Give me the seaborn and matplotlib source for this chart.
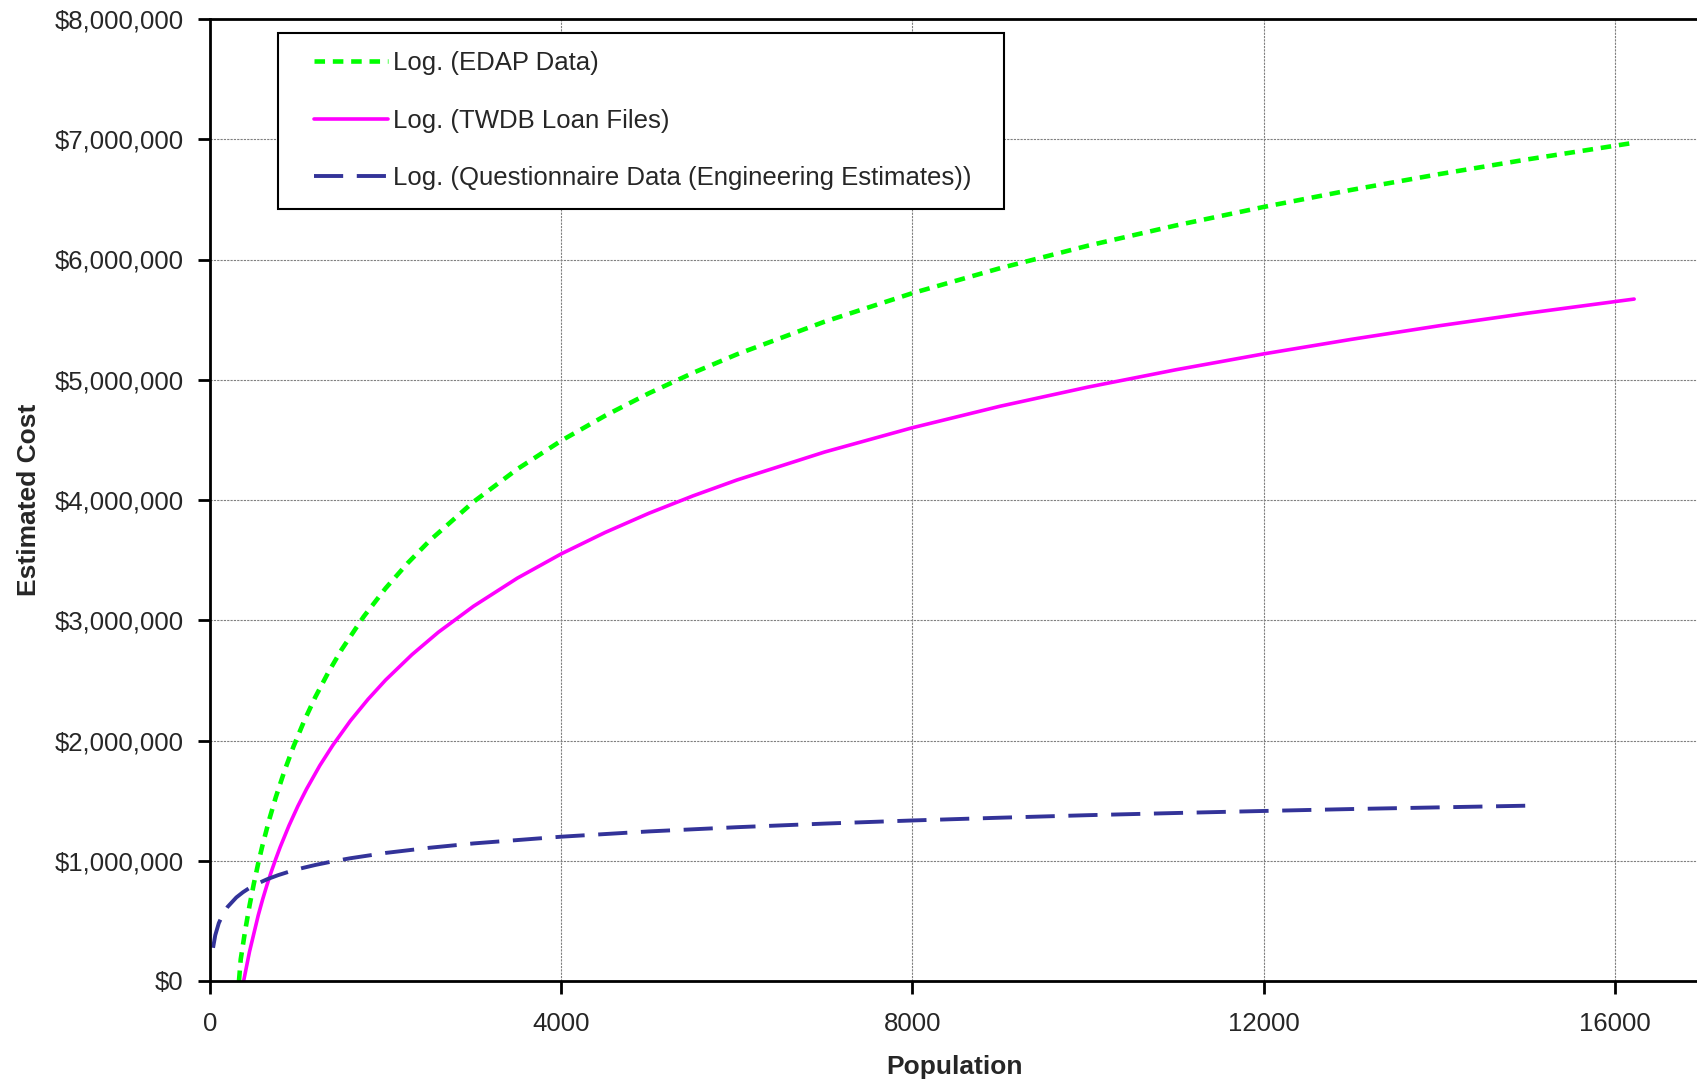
import pandas as pd
import numpy as np
import matplotlib
matplotlib.use("Agg")
import matplotlib.pyplot as plt
import matplotlib.ticker as mticker
from matplotlib.patches import Rectangle
import seaborn as sns

# values (population vs estimated cost, in $ millions)
edap_pop = [330, 350, 400, 450, 500, 550, 600, 675, 750, 850, 950, 1075, 1200, 1350, 1500,
            1750, 2000, 2250, 2500, 3000, 3500, 4000, 4500, 5000, 5500, 6000, 7000, 8000,
            9000, 10000, 11000, 12000, 13000, 14000, 15000, 16220]
edap_cost = [0.0, 0.181, 0.417, 0.626, 0.812, 0.981, 1.135, 1.343, 1.530, 1.751, 1.948,
             2.167, 2.362, 2.570, 2.757, 3.030, 3.266, 3.474, 3.661, 3.984, 4.257, 4.493,
             4.701, 4.888, 5.057, 5.211, 5.483, 5.720, 5.928, 6.115, 6.283, 6.437, 6.579,
             6.710, 6.832, 6.971]

twdb_pop = [383, 450, 550, 600, 650, 700, 750, 800, 900, 1000, 1100, 1250, 1400, 1600, 1800,
            2000, 2300, 2600, 3000, 3500, 4000, 4500, 5000, 5500, 6000, 7000, 8000, 9000,
            10000, 11000, 12000, 13000, 14000, 15000, 16220]
twdb_cost = [0.0, 0.244, 0.548, 0.680, 0.801, 0.913, 1.017, 1.115, 1.293, 1.453, 1.597,
             1.791, 1.962, 2.165, 2.343, 2.503, 2.714, 2.900, 3.116, 3.350, 3.552, 3.730,
             3.890, 4.034, 4.166, 4.399, 4.601, 4.780, 4.939, 5.083, 5.215, 5.336, 5.449,
             5.553, 5.671]

quest_pop = [35, 60, 100, 150, 200, 300, 375, 450, 550, 650, 775, 900, 1050, 1200, 1400,
             1600, 2000, 2500, 3000, 4000, 5000, 6000, 7000, 8000, 9000, 10000, 11000,
             12000, 13000, 14000, 15010]
quest_cost = [0.276, 0.381, 0.481, 0.560, 0.616, 0.695, 0.738, 0.774, 0.813, 0.846, 0.880,
              0.909, 0.939, 0.965, 0.995, 1.021, 1.065, 1.108, 1.144, 1.200, 1.244, 1.279,
              1.309, 1.335, 1.358, 1.379, 1.397, 1.414, 1.430, 1.444, 1.458]

labels = ["Log. (EDAP Data)", "Log. (TWDB Loan Files)",
          "Log. (Questionnaire Data (Engineering Estimates))"]
x_ticks = [0, 4000, 8000, 12000, 16000]
y_ticks = [0, 1e6, 2e6, 3e6, 4e6, 5e6, 6e6, 7e6, 8e6]

sns.set_style("white")
plt.rcParams["font.family"] = ["Liberation Sans", "DejaVu Sans"]

series = [
    (edap_pop, edap_cost, labels[0], "#00ff00", (0, (2.3, 1.7)), 3.3),
    (twdb_pop, twdb_cost, labels[1], "#ff00ff", "-", 2.6),
    (quest_pop, quest_cost, labels[2], "#333399", (0, (7.5, 3.5)), 2.8),
]

fig = plt.figure(figsize=(16.97, 10.83), dpi=100)
ax = fig.add_axes([210 / 1697, 1 - 981 / 1083, 1490 / 1697, 962 / 1083])

for pop, cost, lab, col, ls, lw in series:
    df = pd.DataFrame({"Population": pop, "Cost": np.array(cost) * 1e6})
    sns.lineplot(data=df, x="Population", y="Cost", ax=ax, color=col,
                 linestyle=ls, linewidth=lw, label=lab, sort=False)

ax.set_xlim(0, 16970)
ax.set_ylim(0, 8e6)
ax.set_xticks(x_ticks)
ax.set_yticks(y_ticks)
ax.yaxis.set_major_formatter(mticker.StrMethodFormatter("${x:,.0f}"))
ax.grid(True, color="#808080", linestyle=(0, (2, 1)), linewidth=0.8)

for s in ["left", "bottom", "top"]:
    ax.spines[s].set_color("black")
    ax.spines[s].set_linewidth(2)
ax.spines["right"].set_visible(False)

ax.tick_params(axis="both", direction="out", length=9, width=2, color="black",
               labelsize=18.5, bottom=True, left=True)
ax.tick_params(axis="y", pad=10)
ax.tick_params(axis="x", pad=13)
ax.set_xlabel("Population", fontsize=19, fontweight="bold", labelpad=14)
ax.set_ylabel("Estimated Cost", fontsize=19, fontweight="bold", labelpad=10)

# legend without its own frame, box drawn separately so the left padding matches
leg = ax.legend(loc="upper left", bbox_to_anchor=(0.0698, 0.9663), borderaxespad=0,
                fontsize=18.5, frameon=False, handlelength=2.87,
                handletextpad=0.2, labelspacing=1.29, borderpad=0)
ax.add_patch(Rectangle((0.0456, 0.8025), 0.4873, 0.183, transform=ax.transAxes,
                       facecolor="white", edgecolor="black", linewidth=1.5, zorder=4))
leg.set_zorder(5)

plt.savefig("out.png", dpi=100)
plt.close()
